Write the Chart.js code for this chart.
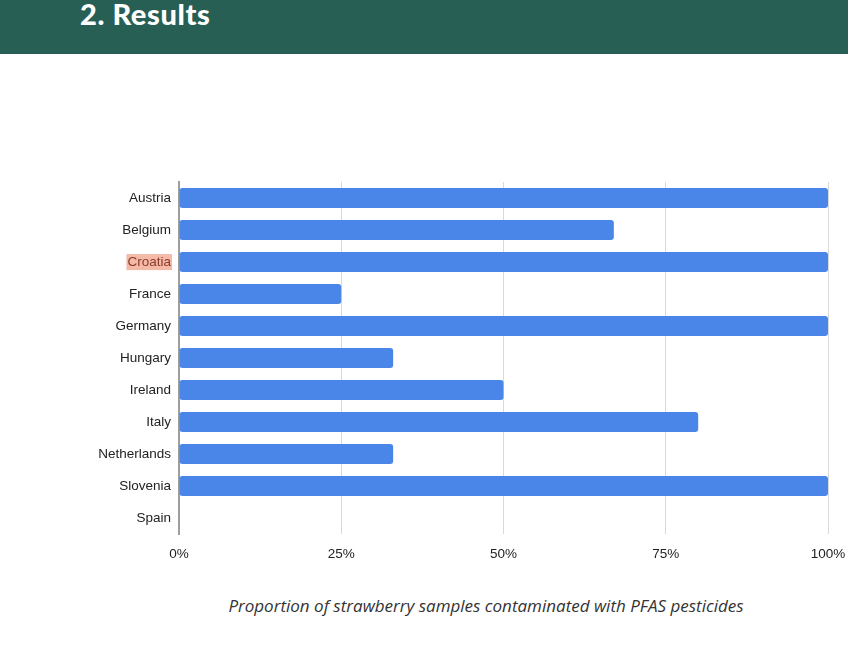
<!DOCTYPE html>
<html>
<head>
<meta charset="utf-8">
<script src="https://cdn.jsdelivr.net/npm/chart.js@4.4.1/dist/chart.umd.min.js"></script>
<style>
  html, body { margin: 0; padding: 0; background: #fff; width: 851px; height: 647px; overflow: hidden; position: relative; }
  .banner { position: absolute; left: 0; top: 0; width: 848px; height: 54px; background: #285f55; }
  .banner h2 { position: absolute; left: 80px; top: -2px; margin: 0; font-family: Lato, sans-serif; font-weight: 900; font-size: 29px; line-height: 32px; color: #fff; letter-spacing: 0.6px; }
  .chart-box { position: absolute; left: 0; top: 166px; width: 851px; height: 405px; }
  .caption { position: absolute; left: 0; width: 972px; top: 594px; text-align: center; font-family: "Open Sans", sans-serif; font-style: italic; font-size: 17px; color: #333; }
</style>
</head>
<body>
<div class="banner"><h2>2. Results</h2></div>
<div class="chart-box"><canvas id="chart"></canvas></div>
<div class="caption">Proportion of strawberry samples contaminated with PFAS pesticides</div>
<script>
var countries = ['Austria', 'Belgium', 'Croatia', 'France', 'Germany', 'Hungary', 'Ireland', 'Italy', 'Netherlands', 'Slovenia', 'Spain'];
var shareContaminated = [100, 67, 100, 25, 100, 33, 50, 80, 33, 100, 0];
var xTicks = [0, 25, 50, 75, 100];
var highlighted = 'Croatia';

var labelFont = { family: 'Arial', size: 13.5 };

// salmon box behind the highlighted country label
var labelHighlight = {
    id: 'labelHighlight',
    beforeDraw: function(chart) {
        var y = chart.scales.y;
        var idx = countries.indexOf(highlighted);
        if (idx < 0) return;
        var ctx = chart.ctx;
        ctx.save();
        ctx.font = labelFont.size + 'px Arial';
        var w = ctx.measureText(highlighted).width;
        var py = y.getPixelForValue(idx);
        ctx.fillStyle = '#f4b9a7';
        ctx.fillRect(y.right - 8 - w - 1, py - 8, w + 2, 16);
        ctx.restore();
    }
};

new Chart(document.getElementById('chart'), {
    type: 'bar',
    data: {
        labels: countries,
        datasets: [{
            data: shareContaminated,
            backgroundColor: '#4a86e8',
            borderWidth: 0,
            borderRadius: 3,
            borderSkipped: false,
            categoryPercentage: 1,
            barPercentage: 0.625
        }]
    },
    options: {
        indexAxis: 'y',
        responsive: true,
        maintainAspectRatio: false,
        animation: false,
        layout: { padding: { top: 14, right: 23, bottom: 0, left: 0 } },
        plugins: {
            legend: { display: false },
            tooltip: { enabled: false }
        },
        scales: {
            x: {
                min: 0,
                max: 100,
                afterBuildTicks: function(scale) {
                    scale.ticks = xTicks.map(function(v) { return { value: v }; });
                },
                afterFit: function(scale) {
                    scale.height = 37;
                    scale.paddingLeft = 0;
                    scale.paddingRight = 0;
                },
                grid: { color: '#d9d9d9', lineWidth: 1, drawTicks: false },
                border: { display: false },
                ticks: {
                    padding: 12,
                    color: '#222',
                    font: labelFont,
                    callback: function(v) { return v + '%'; }
                }
            },
            y: {
                afterFit: function(scale) { scale.width = 179; },
                grid: { display: false, drawTicks: false },
                border: { display: true, color: '#9e9e9e', width: 2 },
                ticks: {
                    padding: 8,
                    font: labelFont,
                    color: function(c) {
                        return countries[c.index] === highlighted ? '#8c3b2b' : '#222';
                    }
                }
            }
        }
    },
    plugins: [labelHighlight]
});
</script>
</body>
</html>
